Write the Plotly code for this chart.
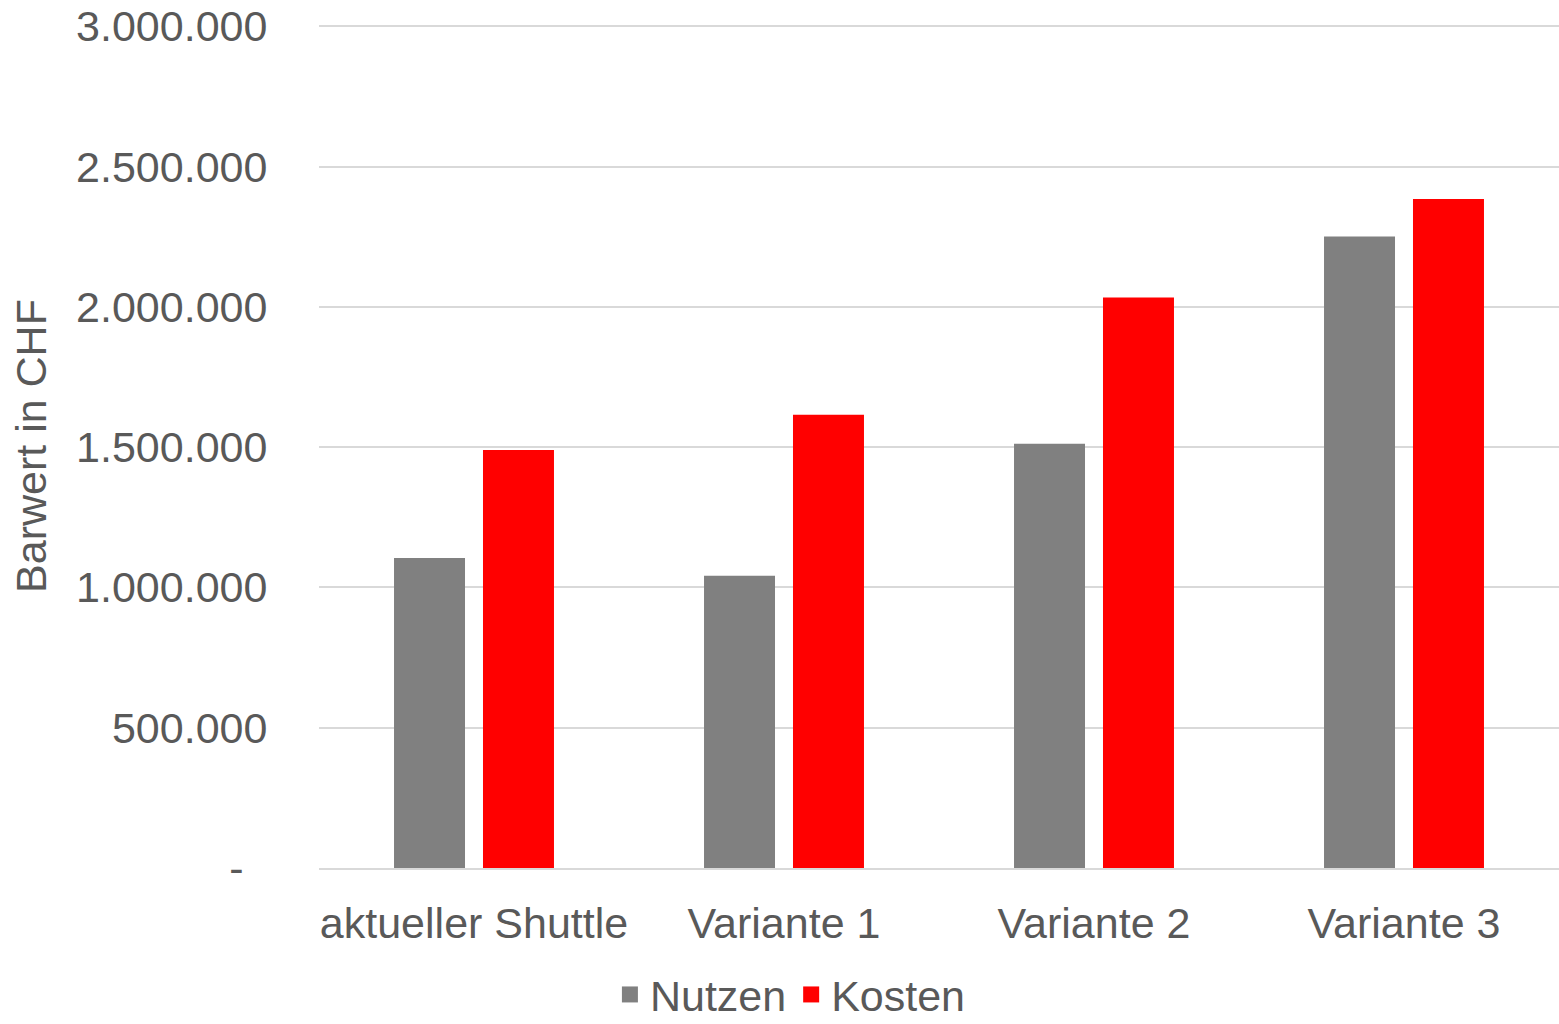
import plotly.graph_objects as go

categories = ["aktueller Shuttle", "Variante 1", "Variante 2", "Variante 3"]
nutzen = [1105000, 1042000, 1512000, 2251000]
kosten = [1490000, 1615000, 2033000, 2384000]
tick_vals = [0, 500000, 1000000, 1500000, 2000000, 2500000, 3000000]
tick_text = ["-\u00a0\u00a0", "500.000", "1.000.000", "1.500.000", "2.000.000", "2.500.000", "3.000.000"]
series_names = ["Nutzen", "Kosten"]
series_colors = ["#808080", "#ff0000"]

FONT = "Liberation Sans, Arial, Helvetica, sans-serif"
TXT = "#595959"

fig = go.Figure()
for name, vals, col in zip(series_names, [nutzen, kosten], series_colors):
    fig.add_trace(go.Bar(name=name, x=categories, y=vals, showlegend=False,
                         marker=dict(color=col, line=dict(width=0))))
# legend entries with larger square swatches
for name, col in zip(series_names, series_colors):
    fig.add_trace(go.Scatter(name=name, x=[None], y=[None], mode="markers",
                             marker=dict(symbol="square", size=23, color=col), showlegend=True))

fig.update_layout(
    width=1559, height=1024,
    margin=dict(l=319, r=0, t=24, b=156, autoexpand=False),
    paper_bgcolor="white", plot_bgcolor="white",
    barmode="group", bargap=0.426, bargroupgap=0.202,
    font=dict(family=FONT, size=43, color=TXT),
    showlegend=True,
    legend=dict(orientation="h", xref="container", yref="paper", x=0.507, xanchor="center",
                y=-0.109, yanchor="top", font=dict(size=43, color=TXT),
                itemwidth=30, traceorder="normal", tracegroupgap=0),
)
fig.update_xaxes(
    showgrid=False, showline=True, linecolor="#d9d9d9", linewidth=2,
    ticks="outside", ticklen=16, tickcolor="rgba(0,0,0,0)",
    tickfont=dict(size=43, color=TXT),
)
fig.update_yaxes(
    range=[0, 3008000], tickvals=tick_vals, ticktext=tick_text,
    showgrid=True, gridcolor="#d9d9d9", gridwidth=1.5, zeroline=False,
    ticks="outside", ticklen=42, tickcolor="rgba(0,0,0,0)",
    tickfont=dict(size=43, color=TXT),
    title=dict(text="Barwert in CHF", font=dict(size=43, color=TXT), standoff=16),
)

fig.write_html("out.html")
